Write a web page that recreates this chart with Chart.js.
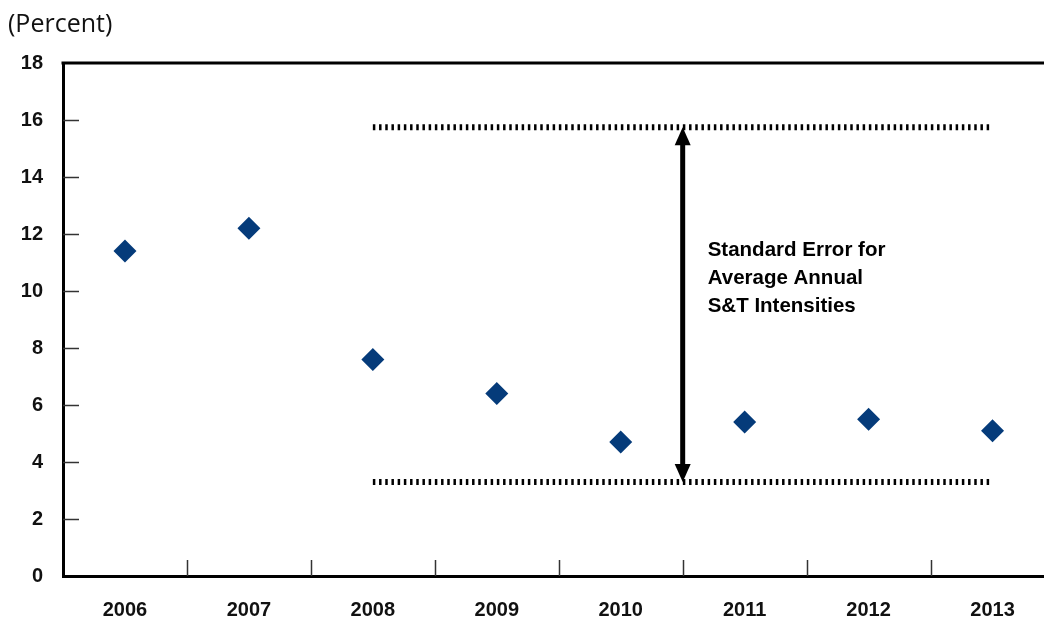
<!DOCTYPE html>
<html>
<head>
<meta charset="utf-8">
<script src="https://cdn.jsdelivr.net/npm/chart.js@4.4.1/dist/chart.umd.min.js"></script>
<style>
  html, body { margin: 0; padding: 0; background: #fff; overflow: hidden; }
  #wrap { position: relative; width: 1066px; height: 622px; }
  #unit { position: absolute; left: 8px; top: 5px; font: 25px "Open Sans", "Liberation Sans", sans-serif; color: #111; }
</style>
</head>
<body>
<div id="wrap">
  <div id="unit">(Percent)</div>
  <canvas id="grafica" width="1066" height="622"></canvas>
</div>
<script>
// --- Datos ---
const years = ['2006', '2007', '2008', '2009', '2010', '2011', '2012', '2013'];
const intensity = [11.4, 12.2, 7.6, 6.4, 4.7, 5.4, 5.5, 5.1];
const upperBand = [null, null, 15.75, 15.75, 15.75, 15.75, 15.75, 15.75];
const lowerBand = [null, null, 3.3, 3.3, 3.3, 3.3, 3.3, 3.3];
const yTicks = [0, 2, 4, 6, 8, 10, 12, 14, 16, 18];
const noteLines = ['Standard Error for', 'Average Annual', 'S&T Intensities'];
const arrowFrom = 3.3, arrowTo = 15.75, arrowAt = 4.5; // entre 2010 y 2011

// --- Marcas internas, borde superior, flecha y nota ---
const extras = {
    id: 'extras',
    afterDatasetsDraw(chart) {
        const { ctx, chartArea: a, scales: { x, y } } = chart;
        ctx.save();
        ctx.strokeStyle = '#000';
        // borde superior
        ctx.lineWidth = 3;
        ctx.beginPath();
        ctx.moveTo(a.left - 1.5, a.top);
        ctx.lineTo(a.right, a.top);
        ctx.stroke();
        // ticks hacia dentro
        ctx.lineWidth = 1.5;
        ctx.strokeStyle = '#333';
        yTicks.slice(1, -1).forEach(v => {
            const py = Math.round(y.getPixelForValue(v)) + 0.5;
            ctx.beginPath();
            ctx.moveTo(a.left, py);
            ctx.lineTo(a.left + 16, py);
            ctx.stroke();
        });
        for (let i = 1; i < years.length; i++) {
            const px = Math.round(x.getPixelForValue(i - 0.5)) + 0.5;
            ctx.beginPath();
            ctx.moveTo(px, a.bottom);
            ctx.lineTo(px, a.bottom - 16);
            ctx.stroke();
        }
        // flecha doble
        const ax = x.getPixelForValue(arrowAt);
        const y1 = y.getPixelForValue(arrowFrom), y2 = y.getPixelForValue(arrowTo);
        ctx.strokeStyle = '#000';
        ctx.fillStyle = '#000';
        ctx.lineWidth = 5;
        ctx.beginPath();
        ctx.moveTo(ax, y1 - 14);
        ctx.lineTo(ax, y2 + 14);
        ctx.stroke();
        [[y2, 1], [y1, -1]].forEach(([ty, d]) => {
            ctx.beginPath();
            ctx.moveTo(ax, ty);
            ctx.lineTo(ax - 8, ty + d * 18);
            ctx.lineTo(ax + 8, ty + d * 18);
            ctx.closePath();
            ctx.fill();
        });
        // nota
        ctx.font = 'bold 20.5px "Liberation Sans", Arial, sans-serif';
        ctx.textBaseline = 'middle';
        noteLines.forEach((t, i) => ctx.fillText(t, ax + 25, 250 + i * 28));
        ctx.restore();
    }
};

new Chart(document.getElementById('grafica'), {
    type: 'line',
    data: {
        labels: years,
        datasets: [
            {
                label: 'Intensity',
                data: intensity,
                showLine: false,
                pointStyle: 'rectRot',
                pointRadius: 11.5,
                pointBackgroundColor: '#053b7a',
                pointBorderColor: '#053b7a',
                pointBorderWidth: 0
            },
            {
                label: 'Upper',
                data: upperBand,
                borderColor: '#000',
                borderWidth: 6,
                borderDash: [2.5, 3.7],
                pointRadius: 0
            },
            {
                label: 'Lower',
                data: lowerBand,
                borderColor: '#000',
                borderWidth: 6,
                borderDash: [2.5, 3.7],
                pointRadius: 0
            }
        ]
    },
    options: {
        responsive: false,
        animation: false,
        layout: { padding: { top: 63, right: 5, left: 0, bottom: 0 } },
        plugins: { legend: { display: false }, tooltip: { enabled: false } },
        scales: {
            x: {
                offset: true,
                grid: { display: false, drawTicks: false },
                border: { display: true, color: '#000', width: 3 },
                ticks: { color: '#111', padding: 22, font: { family: '"Liberation Sans", Arial, sans-serif', size: 20, weight: 'bold' } },
                afterFit: s => { s.height = 46; }
            },
            y: {
                min: 0, max: 18,
                afterBuildTicks: s => { s.ticks = yTicks.map(v => ({ value: v })); },
                grid: { display: false, drawTicks: false },
                border: { display: true, color: '#000', width: 3 },
                ticks: { color: '#111', padding: 20, font: { family: '"Liberation Sans", Arial, sans-serif', size: 20, weight: 'bold' } },
                afterFit: s => { s.width = 63; }
            }
        }
    },
    plugins: [extras]
});
</script>
</body>
</html>
